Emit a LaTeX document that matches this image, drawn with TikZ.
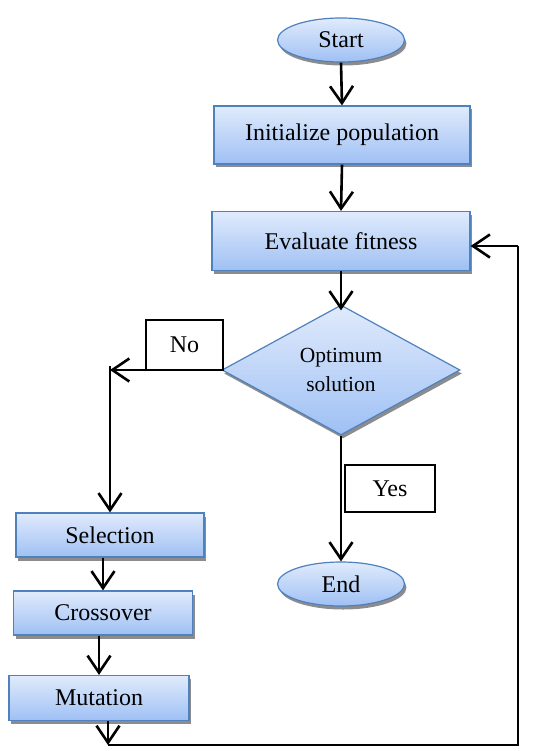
\documentclass[tikz,border=0pt]{standalone}
\usepackage{fontspec}
\setmainfont{Liberation Serif}
\usetikzlibrary{arrows.meta,shapes.geometric,shadows}
\definecolor{boxblue}{HTML}{4F81BD}
\definecolor{topblue}{HTML}{E0EBFC}
\definecolor{botblue}{HTML}{9FC0F4}
\begin{document}
\begin{tikzpicture}[x=1pt,y=-1pt,
  flow/.style={draw=boxblue, line width=1.2pt, top color=topblue, bottom color=botblue,
    drop shadow={shadow xshift=2pt, shadow yshift=-3.5pt, fill=black!60, opacity=0.75},
    font=\fontsize{24}{27}\selectfont, inner sep=0pt},
  procbox/.style={flow, rectangle},
  termbox/.style={flow, ellipse, minimum width=127pt, minimum height=44pt},
  decbox/.style={flow, diamond, aspect=1.83, minimum width=238pt, minimum height=130pt,
    font=\fontsize{21.5}{29}\selectfont, align=center},
  lblbox/.style={draw=black, line width=1.6pt, fill=white, font=\fontsize{24}{27}\selectfont, inner sep=0pt},
  arr/.style={line width=2.6pt, -{Straight Barb[length=17pt,width=23pt,line width=2.6pt]}},
  plain/.style={line width=2.6pt}]
\useasboundingbox (0,0) rectangle (544,751);

\node[termbox] (start) at (341,40) {Start};
\node[procbox, minimum width=256pt, minimum height=58pt] (init) at (342,135) {Initialize population};
\node[procbox, minimum width=258pt, minimum height=59pt] (eval) at (341,241) {Evaluate fitness};
\node[decbox] (opt) at (341,370) {Optimum\\solution};
\node[lblbox, minimum width=77pt, minimum height=50pt] (no) at (184.5,345) {No};
\node[lblbox, minimum width=90pt, minimum height=47pt] (yes) at (390,488.5) {Yes};
\node[termbox] (end) at (341,584) {End};
\node[procbox, minimum width=188pt, minimum height=44pt] (sel) at (110,535) {Selection};
\node[procbox, minimum width=179pt, minimum height=44pt] (cross) at (103,613) {Crossover};
\node[procbox, minimum width=180pt, minimum height=45pt] (mut) at (99,698) {Mutation};

\coordinate (corner) at (110,370);
\coordinate (c1) at (108,745);
\coordinate (c2) at (518,246);

\draw[arr] (start.south) -- (init.north);
\draw[arr] (init.south) -- (eval.north);
\draw[arr] (eval.south) -- ([yshift=-6pt]opt.north);
\draw[arr] (opt.west) -- (corner);
\draw[arr] ([yshift=4pt]corner) -- (corner |- sel.north);
\draw[arr] (sel.south -| cross.north) -- (cross.north);
\draw[arr] (cross.south -| mut.north) -- (mut.north);
\draw[arr] (mut.south -| c1) -- (c1);
\draw[plain] (c1) -| (c2);
\draw[arr] (c2) -- (c2 -| eval.east);
\draw[arr] (opt.south) -- (end.north);
\end{tikzpicture}
\end{document}
